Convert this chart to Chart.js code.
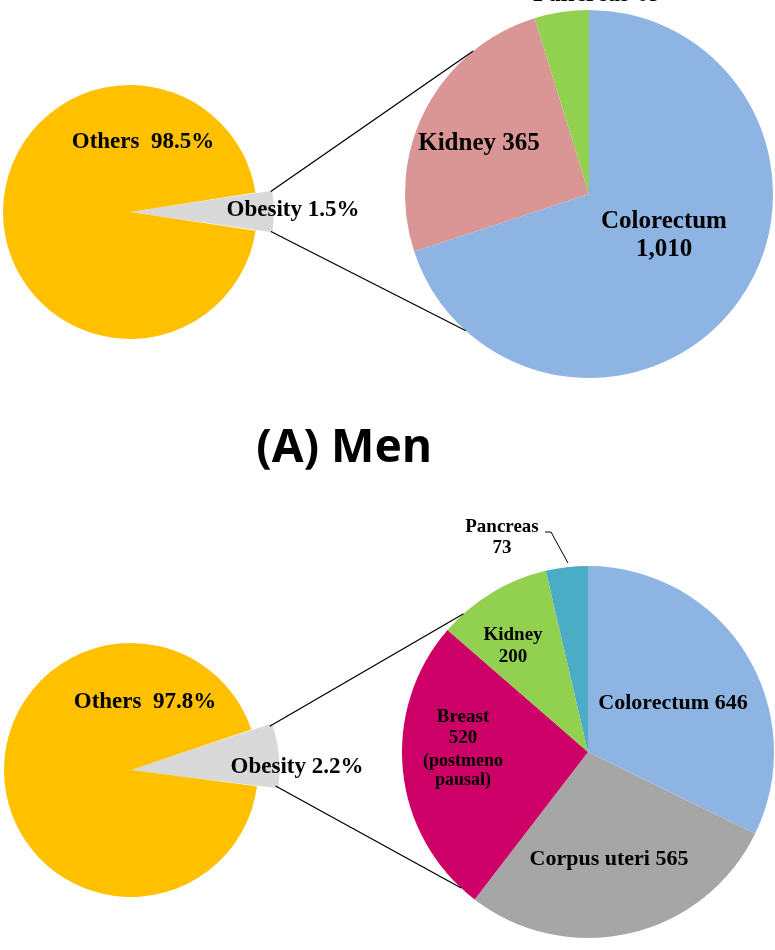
<!DOCTYPE html>
<html>
<head>
<meta charset="utf-8">
<script src="https://cdn.jsdelivr.net/npm/chart.js@4.4.1/dist/chart.umd.min.js"></script>
<style>
  html, body { margin: 0; padding: 0; background: #fff; }
  body { width: 775px; height: 950px; position: relative; overflow: hidden; }
  canvas { position: absolute; }
  .panel-title {
    position: absolute; left: 144px; width: 400px; text-align: center;
    font: bold 46px "Noto Sans", sans-serif; line-height: 46px; color: #000;
  }
</style>
</head>
<body>
<canvas id="menLeft" width="520" height="300" style="left:-130px;top:62px"></canvas>
<canvas id="menRight" width="440" height="440" style="left:369px;top:-26px"></canvas>
<div class="panel-title" style="top:421px">(A) Men</div>
<canvas id="womenLeft" width="520" height="300" style="left:-129px;top:620px"></canvas>
<canvas id="womenRight" width="440" height="480" style="left:368px;top:512px"></canvas>
<canvas id="lines" width="775" height="950" style="left:0;top:0;pointer-events:none"></canvas>

<script>
// MEN
const menSplit = ["Obesity", "Others"];
const menSplitPct = [1.5, 98.5]; // printed shares
const menSplitDrawn = [4.8, 95.2]; // wedge as drawn in the figure (not to scale)
const menOrgans = ["Colorectum", "Kidney", "Pancreas"];
const menCases = [1010, 365, 69];

// WOMEN
const womenSplit = ["Obesity", "Others"];
const womenSplitPct = [2.2, 97.8];
const womenSplitDrawn = [7.2, 92.8];
const womenOrgans = ["Colorectum", "Corpus uteri", "Breast", "Kidney", "Pancreas"];
const womenCases = [646, 565, 520, 200, 73];

const splitColors = ["#D9D9D9", "#FFC000"];
const menColors = ["#8EB4E3", "#D99694", "#92D050"];
const womenColors = ["#8EB4E3", "#A6A6A6", "#CC0066", "#92D050", "#4BACC6"];

const fmt = (v) => v.toLocaleString("en-US");
const pct = (v) => v.toFixed(1) + "%";

// draws the slice texts, positions relative to pie centre
function pieText(items) {
  return {
    id: "pieText",
    afterDraw(chart) {
      const c = chart.getDatasetMeta(0).data[0];
      const ctx = chart.ctx;
      ctx.save();
      ctx.fillStyle = "#000";
      ctx.strokeStyle = "#000";
      ctx.textAlign = "center";
      ctx.textBaseline = "middle";
      items.forEach((it) => {
        ctx.font = "bold " + it.size + "px 'Liberation Serif'";
        it.lines.forEach((t, k) => {
          ctx.fillText(t, c.x + it.dx, c.y + it.dy + k * (it.gap || 0));
        });
        if (it.leader) {
          ctx.lineWidth = 1;
          ctx.beginPath();
          it.leader.forEach((p, k) => {
            if (k === 0) ctx.moveTo(c.x + p[0], c.y + p[1]);
            else ctx.lineTo(c.x + p[0], c.y + p[1]);
          });
          ctx.stroke();
        }
      });
      ctx.restore();
    },
  };
}

function pieChart(id, labels, data, colors, radius, rotation, offset, border, items) {
  const el = document.querySelector(id);
  return new Chart(el.getContext("2d"), {
    type: "pie",
    data: {
      labels: labels,
      datasets: [
        {
          data: data,
          backgroundColor: colors,
          borderColor: colors,
          borderWidth: border,
          borderJoinStyle: "miter",
          offset: offset,
        },
      ],
    },
    options: {
      responsive: false,
      animation: false,
      events: [],
      radius: radius,
      rotation: rotation,
      layout: { padding: 0 },
      plugins: {
        legend: { display: false },
        tooltip: { enabled: false },
      },
    },
    plugins: [pieText(items)],
  });
}

// BIỂU ĐỒ NAM
const menLeft = pieChart("#menLeft", menSplit, menSplitDrawn, splitColors, 127,
  90 - menSplitDrawn[0] * 1.8 - 0.2, [36, 0], [3, 0], [
    { lines: [menSplit[1] + "  " + pct(menSplitPct[1])], size: 23, dx: 13, dy: -70 },
    { lines: [menSplit[0] + " " + pct(menSplitPct[0])], size: 23, dx: 163, dy: -2 },
  ]);

const menRight = pieChart("#menRight", menOrgans, menCases, menColors, 184, 0, 0, 0, [
  { lines: [menOrgans[0], fmt(menCases[0])], size: 25, dx: 75, dy: 28, gap: 28 },
  { lines: [menOrgans[1] + " " + fmt(menCases[1])], size: 25, dx: -110, dy: -50 },
  { lines: [menOrgans[2] + " " + fmt(menCases[2])], size: 25, dx: 8, dy: -199 },
]);

// BIỂU ĐỒ NỮ
const womenLeft = pieChart("#womenLeft", womenSplit, womenSplitDrawn, splitColors, 127,
  90 - womenSplitDrawn[0] * 1.8 - 5.6, [48, 0], [6, 0], [
    { lines: [womenSplit[1] + "  " + pct(womenSplitPct[1])], size: 23, dx: 14, dy: -68 },
    { lines: [womenSplit[0] + " " + pct(womenSplitPct[0])], size: 23, dx: 166, dy: -3 },
  ]);

const womenRight = pieChart("#womenRight", womenOrgans, womenCases, womenColors, 186, 0, 0, 0, [
  { lines: [womenOrgans[0] + " " + fmt(womenCases[0])], size: 22, dx: 85, dy: -49 },
  { lines: [womenOrgans[1] + " " + fmt(womenCases[1])], size: 22, dx: 21, dy: 107 },
  { lines: [womenOrgans[2], fmt(womenCases[2])], size: 19, dx: -125, dy: -35, gap: 21 },
  { lines: ["(postmeno", "pausal)"], size: 18, dx: -125, dy: 9, gap: 19 },
  { lines: [womenOrgans[3], fmt(womenCases[3])], size: 19, dx: -75, dy: -117, gap: 22 },
  { lines: [womenOrgans[4], fmt(womenCases[4])], size: 19, dx: -86, dy: -225, gap: 21,
    leader: [[-43, -220], [-37, -220], [-20, -189]] },
]);

// ĐƯỜNG NỐI
function wedgeCorners(chart) {
  const a = chart.getDatasetMeta(0).data[0];
  const cv = chart.canvas;
  const o = (a.options.offset || 0) / 4;
  const h = (a.startAngle + a.endAngle) / 2;
  const r = a.outerRadius + o * (1 - Math.sin(Math.min(Math.PI, a.endAngle - a.startAngle)));
  const bx = cv.offsetLeft + a.x + Math.cos(h) * o;
  const by = cv.offsetTop + a.y + Math.sin(h) * o;
  return [
    [bx + r * Math.cos(a.startAngle), by + r * Math.sin(a.startAngle)],
    [bx + r * Math.cos(a.endAngle), by + r * Math.sin(a.endAngle)],
  ];
}

function rimPoint(chart, clockDeg) {
  const a = chart.getDatasetMeta(0).data[0];
  const cv = chart.canvas;
  const ang = ((clockDeg - 90) * Math.PI) / 180;
  return [
    cv.offsetLeft + a.x + a.outerRadius * Math.cos(ang),
    cv.offsetTop + a.y + a.outerRadius * Math.sin(ang),
  ];
}

const lc = document.querySelector("#lines").getContext("2d");
lc.strokeStyle = "#000";
lc.lineWidth = 1.3;
[
  [menLeft, menRight, 321, 222],
  [womenLeft, womenRight, 318, 223],
].forEach(([left, right, up, down]) => {
  const k = wedgeCorners(left);
  const p1 = rimPoint(right, up);
  const p2 = rimPoint(right, down);
  lc.beginPath();
  lc.moveTo(k[0][0], k[0][1]);
  lc.lineTo(p1[0], p1[1]);
  lc.moveTo(k[1][0], k[1][1]);
  lc.lineTo(p2[0], p2[1]);
  lc.stroke();
});
</script>
</body>
</html>
